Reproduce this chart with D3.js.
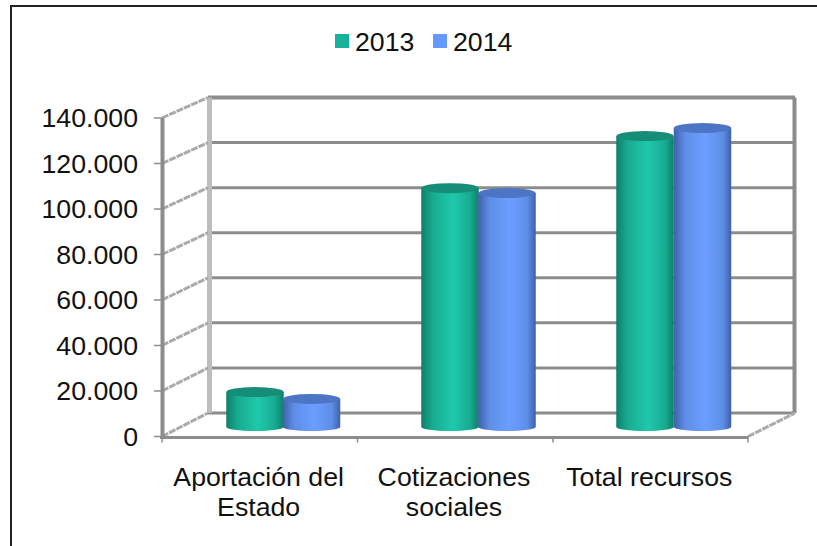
<!DOCTYPE html>
<html>
<head>
<meta charset="utf-8">
<script src="https://cdn.jsdelivr.net/npm/d3@7"></script>
<style>
html, body { margin: 0; padding: 0; background: #fff; }
svg { display: block; font-family: "Liberation Sans", Arial, sans-serif; }
</style>
</head>
<body>
<svg width="817" height="546"></svg>
<script>
const categorias = [["Aportación del", "Estado"], ["Cotizaciones", "sociales"], ["Total recursos"]];
const series = ["2013", "2014"];
const valores2013 = [15600, 106500, 129700];
const valores2014 = [12500, 104300, 133300];
const ticks = [0, 20000, 40000, 60000, 80000, 100000, 120000, 140000];
const tickLabels = ["0", "20.000", "40.000", "60.000", "80.000", "100.000", "120.000", "140.000"];

const svg = d3.select("svg");
const fuente = 26.7;

// marco
svg.append("path")
  .attr("d", "M11,546V6H817")
  .attr("fill", "none")
  .attr("stroke", "#222")
  .attr("stroke-width", 2);

const yFront = d3.scaleLinear().domain([0, 140000]).range([436.5, 118]);
const yBack = d3.scaleLinear().domain([0, 140000]).range([413, 97.5]);
const yBar = d3.scaleLinear().domain([0, 140000]).range([427, 113]);
const x0 = d3.scaleBand().domain(d3.range(3)).range([162, 748]);

const defs = svg.append("defs");
function gradiente(id, oscuro, medio, claro) {
  const g = defs.append("linearGradient").attr("id", id);
  [[0, oscuro], [0.2, medio], [0.55, claro], [0.85, medio], [1, oscuro]].forEach(s => {
    g.append("stop").attr("offset", s[0]).attr("stop-color", s[1]);
  });
}
gradiente("g2013", "#0e7f69", "#17ab91", "#20c8ab");
gradiente("g2014", "#3f61a8", "#5f8ee8", "#6b9eff");

// paredes y suelo
const gris = "#8c8c8c";
const muro = svg.append("g");
muro.selectAll("line.rej")
  .data(ticks)
  .join("line")
  .attr("x1", 208).attr("x2", 795)
  .attr("y1", d => yBack(d)).attr("y2", d => yBack(d))
  .attr("stroke", gris)
  .attr("stroke-width", d => d === 140000 ? 4 : 3);

muro.append("line")
  .attr("x1", 209.5).attr("x2", 209.5)
  .attr("y1", yBack(140000)).attr("y2", yBack(0))
  .attr("stroke", "#bdbdbd").attr("stroke-width", 5);
muro.append("line")
  .attr("x1", 794.5).attr("x2", 794.5)
  .attr("y1", yBack(140000)).attr("y2", yBack(0))
  .attr("stroke", gris).attr("stroke-width", 4);

// diagonales de la pared lateral
muro.selectAll("line.diag")
  .data(ticks)
  .join("line")
  .attr("x1", 162).attr("x2", 208)
  .attr("y1", d => yFront(d)).attr("y2", d => yBack(d))
  .attr("stroke", "#aaa").attr("stroke-width", 3)
  .attr("stroke-dasharray", "7 1");
muro.append("line")
  .attr("x1", 748).attr("x2", 795)
  .attr("y1", yFront(0)).attr("y2", yBack(0))
  .attr("stroke", "#aaa").attr("stroke-width", 3)
  .attr("stroke-dasharray", "7 1");

// ejes
const ejes = svg.append("g");
ejes.append("line")
  .attr("x1", 162.5).attr("x2", 162.5)
  .attr("y1", yFront(140000)).attr("y2", yFront(0))
  .attr("stroke", gris).attr("stroke-width", 4);
ejes.append("line")
  .attr("x1", 160).attr("x2", 748)
  .attr("y1", yFront(0) + 1).attr("y2", yFront(0) + 1)
  .attr("stroke", gris).attr("stroke-width", 3);
ejes.selectAll("line.tick")
  .data(ticks)
  .join("line")
  .attr("x1", 154).attr("x2", 162)
  .attr("y1", d => yFront(d)).attr("y2", d => yFront(d))
  .attr("stroke", gris).attr("stroke-width", 1.5);
ejes.selectAll("line.xtick")
  .data([162, 357.5, 553, 748])
  .join("line")
  .attr("x1", d => d).attr("x2", d => d)
  .attr("y1", yFront(0)).attr("y2", yFront(0) + 6)
  .attr("stroke", gris).attr("stroke-width", 1.5);

svg.append("g").selectAll("text")
  .data(ticks)
  .join("text")
  .attr("x", 138)
  .attr("y", d => yFront(d) + 9)
  .attr("text-anchor", "end")
  .attr("font-size", fuente)
  .attr("fill", "#111")
  .text((d, i) => tickLabels[i]);

// cilindros
const datos = [];
categorias.forEach((c, i) => {
  datos.push({ serie: "2013", i, v: valores2013[i] });
  datos.push({ serie: "2014", i, v: valores2014[i] });
});
const anchoBarra = 57.5;
const centros = [[255, 311.5], [450, 507], [645, 702.5]];
const tapa = { "2013": "#158d77", "2014": "#4d75c6" };
const ry = 5;

const barras = svg.append("g").selectAll("g")
  .data(datos)
  .join("g");

barras.append("path")
  .attr("fill", d => "url(#g" + d.serie + ")")
  .attr("d", d => {
    const cx = centros[d.i][series.indexOf(d.serie)];
    const rx = anchoBarra / 2;
    const yt = yBar(d.v);
    const yb = yBar(0);
    return `M${cx - rx},${yt}L${cx - rx},${yb}A${rx},4 0 0 0 ${cx + rx},${yb}L${cx + rx},${yt}Z`;
  });
barras.append("ellipse")
  .attr("cx", d => centros[d.i][series.indexOf(d.serie)])
  .attr("cy", d => yBar(d.v))
  .attr("rx", anchoBarra / 2)
  .attr("ry", ry)
  .attr("fill", d => tapa[d.serie]);

// etiquetas de categoria
const etiquetas = svg.append("g")
  .selectAll("text")
  .data(categorias)
  .join("text")
  .attr("text-anchor", "middle")
  .attr("font-size", fuente)
  .attr("fill", "#111")
  .attr("transform", (d, i) => `translate(${x0(i) + x0.bandwidth() / 2 - 1},486)`);
etiquetas.selectAll("tspan")
  .data(d => d)
  .join("tspan")
  .attr("x", 0)
  .attr("dy", (d, i) => i ? 30 : 0)
  .text(d => d);

// leyenda
const leyenda = svg.append("g");
const leyendaX = [335, 433];
const colores = ["#17b29a", "#6699ff"];
series.forEach((s, i) => {
  leyenda.append("rect")
    .attr("x", leyendaX[i]).attr("y", 34)
    .attr("width", 14).attr("height", 14)
    .attr("fill", colores[i]);
  leyenda.append("text")
    .attr("x", leyendaX[i] + 20).attr("y", 51)
    .attr("font-size", fuente)
    .attr("fill", "#111")
    .text(s);
});
</script>
</body>
</html>
